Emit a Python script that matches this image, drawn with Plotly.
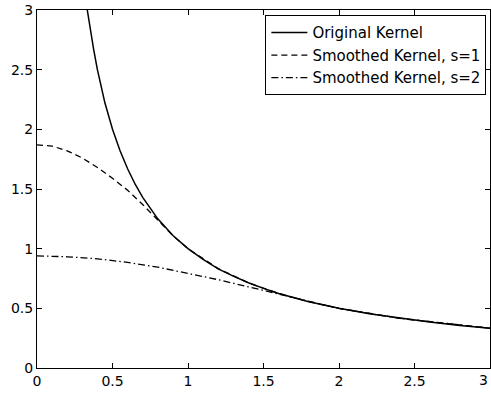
import plotly.graph_objects as go

# Original kernel
orig_x = [0.333, 0.35, 0.375, 0.4, 0.45, 0.5, 0.55, 0.6, 0.65, 0.7, 0.8, 0.9, 1.0,
          1.1, 1.2, 1.3, 1.4, 1.5, 1.6, 1.8, 2.0, 2.2, 2.4, 2.6, 2.8, 3.0]
orig_y = [3.0, 2.86, 2.67, 2.5, 2.22, 2.0, 1.82, 1.67, 1.54, 1.43, 1.25, 1.11, 1.0,
          0.91, 0.83, 0.77, 0.714, 0.667, 0.625, 0.556, 0.5, 0.455, 0.417, 0.385, 0.357, 0.333]

# Smoothed kernel, s=1
s1_x = [0.0, 0.1, 0.2, 0.3, 0.4, 0.5, 0.6, 0.7, 0.8, 0.9, 1.0, 1.2, 1.4, 1.6, 1.8,
        2.0, 2.4, 2.8, 3.0]
s1_y = [1.87, 1.86, 1.82, 1.76, 1.68, 1.59, 1.49, 1.37, 1.24, 1.11, 0.999, 0.833,
        0.714, 0.625, 0.556, 0.5, 0.417, 0.357, 0.333]

# Smoothed kernel, s=2
s2_x = [0.0, 0.2, 0.4, 0.6, 0.8, 1.0, 1.2, 1.4, 1.5, 1.6, 1.7, 1.8, 2.0, 2.4, 2.8, 3.0]
s2_y = [0.94, 0.932, 0.915, 0.885, 0.845, 0.795, 0.74, 0.68, 0.65, 0.617, 0.585,
        0.554, 0.499, 0.416, 0.357, 0.333]

# Tick values / labels
tick_vals = [0, 0.5, 1, 1.5, 2, 2.5, 3]
tick_text = ["0", "0.5", "1", "1.5", "2", "2.5", "3"]

FONT = "DejaVu Sans, sans-serif"

fig = go.Figure()
fig.add_trace(go.Scatter(x=s1_x, y=s1_y, mode="lines", name="Smoothed Kernel, s=1",
                         line=dict(color="black", width=1.3, dash="6px,4px"),
                         legendrank=2))
fig.add_trace(go.Scatter(x=s2_x, y=s2_y, mode="lines", name="Smoothed Kernel, s=2",
                         line=dict(color="black", width=1.3, dash="7px,3px,1.5px,3px"),
                         legendrank=3))
fig.add_trace(go.Scatter(x=orig_x, y=orig_y, mode="lines", name="Original Kernel",
                         line=dict(color="black", width=1.5), legendrank=1))

axis_common = dict(
    showline=True, linecolor="black", linewidth=1, mirror="ticks",
    ticks="inside", ticklen=5, tickcolor="black", tickwidth=1,
    showgrid=False, zeroline=False,
    tickmode="array", tickvals=tick_vals, ticktext=tick_text,
    tickfont=dict(family=FONT, size=14, color="black"),
)

fig.update_layout(
    width=491, height=394,
    margin=dict(l=37, r=1, t=10, b=26),
    paper_bgcolor="white", plot_bgcolor="white",
    xaxis=dict(range=[0, 3], **axis_common),
    yaxis=dict(range=[0, 3], ticklabelstandoff=0, **axis_common),
    legend=dict(x=0.992, y=0.985, xanchor="right", yanchor="top",
                bgcolor="white", bordercolor="black", borderwidth=1,
                font=dict(family=FONT, size=15, color="black"),
                tracegroupgap=0, itemwidth=36),
    showlegend=True,
)

# last x tick label sits at the right edge of the figure
fig.add_annotation(x=tick_vals[-1], y=0, xref="x", yref="y", text=tick_text[-1],
                   showarrow=False, yanchor="top", xanchor="right", yshift=-2,
                   font=dict(family=FONT, size=14, color="black"))

fig.write_html("out.html")
